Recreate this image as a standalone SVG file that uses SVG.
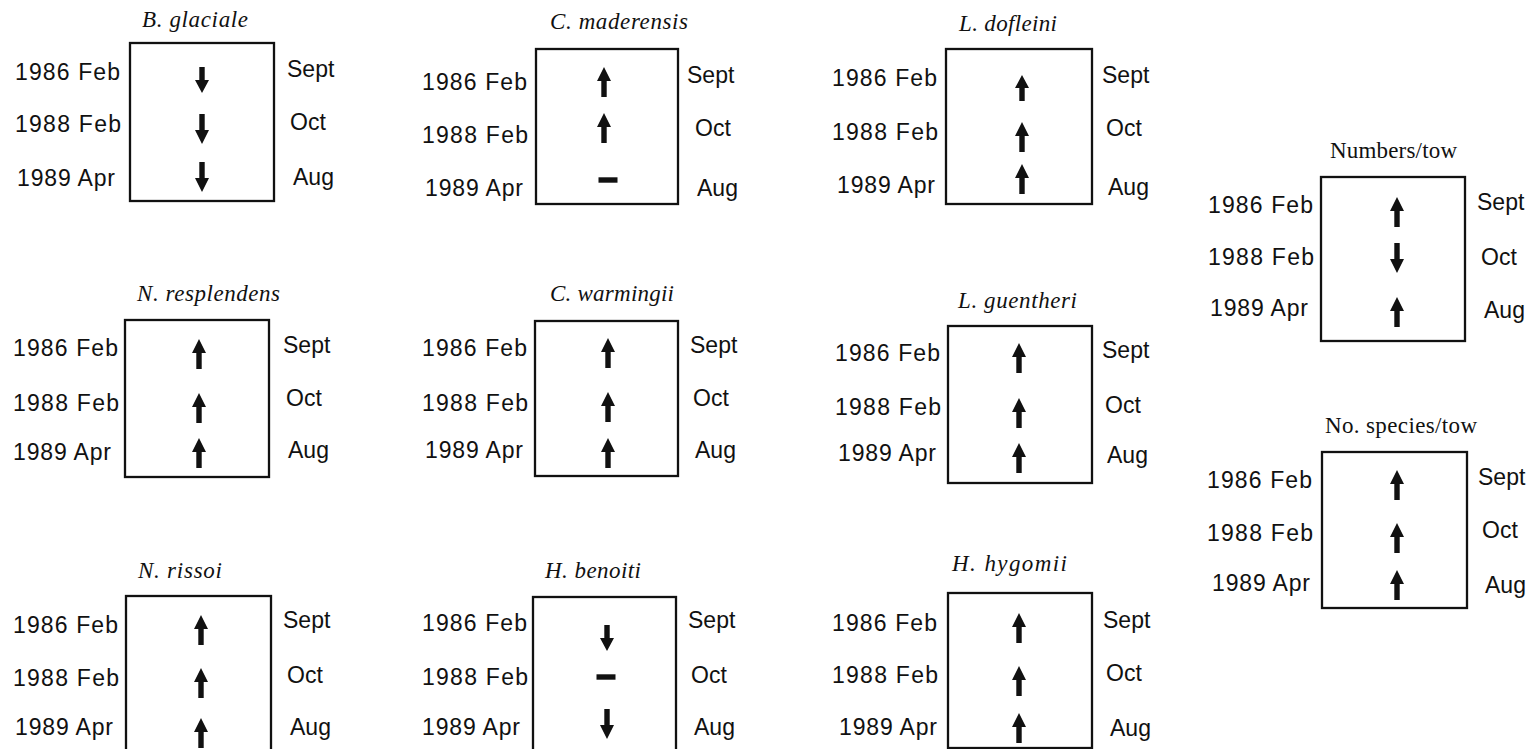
<svg xmlns="http://www.w3.org/2000/svg" xmlns:xlink="http://www.w3.org/1999/xlink" width="1536" height="749" viewBox="0 0 1536 749">
<style>
.bg{fill:#fff}
.box{fill:none;stroke:#111;stroke-width:2.3}
.lab{font-family:"Liberation Sans",Arial,sans-serif;font-size:23px;fill:#111}
.ttl{font-family:"Liberation Serif","Times New Roman",serif;font-size:23px;font-style:italic;fill:#111}
.ttlu{font-family:"Liberation Serif","Times New Roman",serif;font-size:23px;fill:#111}
.mk{fill:#111}
</style>
<defs>
<path id="up" d="M0,0 L7,14 L2.7,14 L2.7,30 L-2.7,30 L-2.7,14 L-7,14 Z"/>
<path id="ups" d="M0,0 L7,13 L2.7,13 L2.7,26 L-2.7,26 L-2.7,13 L-7,13 Z"/>
<path id="dn" d="M0,30 L7,16 L2.7,16 L2.7,0 L-2.7,0 L-2.7,16 L-7,16 Z"/>
<path id="dns" d="M0,26 L7,13 L2.7,13 L2.7,0 L-2.7,0 L-2.7,13 L-7,13 Z"/>
<rect id="dash" x="-9.5" y="-2.7" width="19" height="5.4"/>
</defs>
<rect class="bg" x="0" y="0" width="1536" height="749"/>

<g id="b-glaciale">
<text class="ttl" x="142" y="27" textLength="106" lengthAdjust="spacing">B. glaciale</text>
<rect class="box" x="130" y="43" width="144" height="158"/>
<text class="lab" x="15" y="80" textLength="105" lengthAdjust="spacing">1986 Feb</text>
<text class="lab" x="15" y="132" textLength="106" lengthAdjust="spacing">1988 Feb</text>
<text class="lab" x="17" y="186" textLength="98" lengthAdjust="spacing">1989 Apr</text>
<text class="lab" x="287" y="77">Sept</text>
<text class="lab" x="290" y="130">Oct</text>
<text class="lab" x="293" y="185">Aug</text>
<use class="mk" xlink:href="#dns" x="202" y="67"/>
<use class="mk" xlink:href="#dn" x="202" y="114"/>
<use class="mk" xlink:href="#dn" x="202" y="162"/>
</g>

<g id="c-maderensis">
<text class="ttl" x="550" y="29" textLength="138" lengthAdjust="spacing">C. maderensis</text>
<rect class="box" x="536" y="49" width="142" height="155"/>
<text class="lab" x="422" y="90" textLength="105" lengthAdjust="spacing">1986 Feb</text>
<text class="lab" x="422" y="143" textLength="106" lengthAdjust="spacing">1988 Feb</text>
<text class="lab" x="425" y="196" textLength="98" lengthAdjust="spacing">1989 Apr</text>
<text class="lab" x="687" y="83">Sept</text>
<text class="lab" x="695" y="136">Oct</text>
<text class="lab" x="697" y="196">Aug</text>
<use class="mk" xlink:href="#up" x="604" y="67"/>
<use class="mk" xlink:href="#up" x="604" y="113"/>
<use class="mk" xlink:href="#dash" x="608" y="180"/>
</g>

<g id="l-dofleini">
<text class="ttl" x="959" y="31" textLength="98" lengthAdjust="spacing">L. dofleini</text>
<rect class="box" x="946" y="49" width="146" height="155"/>
<text class="lab" x="832" y="86" textLength="105" lengthAdjust="spacing">1986 Feb</text>
<text class="lab" x="832" y="140" textLength="106" lengthAdjust="spacing">1988 Feb</text>
<text class="lab" x="837" y="193" textLength="98" lengthAdjust="spacing">1989 Apr</text>
<text class="lab" x="1102" y="83">Sept</text>
<text class="lab" x="1106" y="136">Oct</text>
<text class="lab" x="1108" y="195">Aug</text>
<use class="mk" xlink:href="#ups" x="1022" y="75"/>
<use class="mk" xlink:href="#up" x="1022" y="122"/>
<use class="mk" xlink:href="#up" x="1022" y="164"/>
</g>

<g id="numbers-tow">
<text class="ttlu" x="1330" y="158" textLength="127" lengthAdjust="spacing">Numbers/tow</text>
<rect class="box" x="1321" y="177" width="144" height="164"/>
<text class="lab" x="1208" y="213" textLength="105" lengthAdjust="spacing">1986 Feb</text>
<text class="lab" x="1208" y="265" textLength="106" lengthAdjust="spacing">1988 Feb</text>
<text class="lab" x="1210" y="316" textLength="98" lengthAdjust="spacing">1989 Apr</text>
<text class="lab" x="1477" y="210">Sept</text>
<text class="lab" x="1481" y="265">Oct</text>
<text class="lab" x="1484" y="318">Aug</text>
<use class="mk" xlink:href="#up" x="1397" y="197"/>
<use class="mk" xlink:href="#dn" x="1397" y="243"/>
<use class="mk" xlink:href="#up" x="1397" y="297"/>
</g>

<g id="no-species-tow">
<text class="ttlu" x="1325" y="433" textLength="152" lengthAdjust="spacing">No. species/tow</text>
<rect class="box" x="1322" y="452" width="145" height="156"/>
<text class="lab" x="1207" y="488" textLength="105" lengthAdjust="spacing">1986 Feb</text>
<text class="lab" x="1207" y="541" textLength="106" lengthAdjust="spacing">1988 Feb</text>
<text class="lab" x="1212" y="591" textLength="98" lengthAdjust="spacing">1989 Apr</text>
<text class="lab" x="1478" y="485">Sept</text>
<text class="lab" x="1482" y="538">Oct</text>
<text class="lab" x="1485" y="593">Aug</text>
<use class="mk" xlink:href="#up" x="1397" y="470"/>
<use class="mk" xlink:href="#up" x="1397" y="523"/>
<use class="mk" xlink:href="#up" x="1397" y="570"/>
</g>

<g id="n-resplendens">
<text class="ttl" x="137" y="301" textLength="143" lengthAdjust="spacing">N. resplendens</text>
<rect class="box" x="125" y="320" width="144" height="157"/>
<text class="lab" x="13" y="356" textLength="105" lengthAdjust="spacing">1986 Feb</text>
<text class="lab" x="13" y="411" textLength="106" lengthAdjust="spacing">1988 Feb</text>
<text class="lab" x="13" y="460" textLength="98" lengthAdjust="spacing">1989 Apr</text>
<text class="lab" x="283" y="353">Sept</text>
<text class="lab" x="286" y="406">Oct</text>
<text class="lab" x="288" y="458">Aug</text>
<use class="mk" xlink:href="#up" x="199" y="339"/>
<use class="mk" xlink:href="#up" x="199" y="393"/>
<use class="mk" xlink:href="#up" x="199" y="438"/>
</g>

<g id="c-warmingii">
<text class="ttl" x="550" y="301" textLength="124" lengthAdjust="spacing">C. warmingii</text>
<rect class="box" x="535" y="321" width="143" height="155"/>
<text class="lab" x="422" y="356" textLength="105" lengthAdjust="spacing">1986 Feb</text>
<text class="lab" x="422" y="411" textLength="106" lengthAdjust="spacing">1988 Feb</text>
<text class="lab" x="425" y="458" textLength="98" lengthAdjust="spacing">1989 Apr</text>
<text class="lab" x="690" y="353">Sept</text>
<text class="lab" x="693" y="406">Oct</text>
<text class="lab" x="695" y="458">Aug</text>
<use class="mk" xlink:href="#up" x="608" y="338"/>
<use class="mk" xlink:href="#up" x="608" y="392"/>
<use class="mk" xlink:href="#up" x="608" y="438"/>
</g>

<g id="l-guentheri">
<text class="ttl" x="958" y="308" textLength="119" lengthAdjust="spacing">L. guentheri</text>
<rect class="box" x="948" y="326" width="144" height="157"/>
<text class="lab" x="835" y="361" textLength="105" lengthAdjust="spacing">1986 Feb</text>
<text class="lab" x="835" y="415" textLength="106" lengthAdjust="spacing">1988 Feb</text>
<text class="lab" x="838" y="461" textLength="98" lengthAdjust="spacing">1989 Apr</text>
<text class="lab" x="1102" y="358">Sept</text>
<text class="lab" x="1105" y="413">Oct</text>
<text class="lab" x="1107" y="463">Aug</text>
<use class="mk" xlink:href="#up" x="1019" y="343"/>
<use class="mk" xlink:href="#up" x="1019" y="398"/>
<use class="mk" xlink:href="#up" x="1019" y="443"/>
</g>

<g id="n-rissoi">
<text class="ttl" x="138" y="578" textLength="84" lengthAdjust="spacing">N. rissoi</text>
<rect class="box" x="126" y="596" width="145" height="160"/>
<text class="lab" x="13" y="633" textLength="105" lengthAdjust="spacing">1986 Feb</text>
<text class="lab" x="13" y="686" textLength="106" lengthAdjust="spacing">1988 Feb</text>
<text class="lab" x="15" y="735" textLength="98" lengthAdjust="spacing">1989 Apr</text>
<text class="lab" x="283" y="628">Sept</text>
<text class="lab" x="287" y="683">Oct</text>
<text class="lab" x="290" y="735">Aug</text>
<use class="mk" xlink:href="#up" x="201" y="615"/>
<use class="mk" xlink:href="#up" x="201" y="668"/>
<use class="mk" xlink:href="#up" x="201" y="718"/>
</g>

<g id="h-benoiti">
<text class="ttl" x="545" y="578" textLength="96" lengthAdjust="spacing">H. benoiti</text>
<rect class="box" x="533" y="597" width="143" height="160"/>
<text class="lab" x="422" y="631" textLength="105" lengthAdjust="spacing">1986 Feb</text>
<text class="lab" x="422" y="685" textLength="106" lengthAdjust="spacing">1988 Feb</text>
<text class="lab" x="422" y="735" textLength="98" lengthAdjust="spacing">1989 Apr</text>
<text class="lab" x="688" y="628">Sept</text>
<text class="lab" x="691" y="683">Oct</text>
<text class="lab" x="694" y="735">Aug</text>
<use class="mk" xlink:href="#dns" x="607" y="625"/>
<use class="mk" xlink:href="#dash" x="606" y="677"/>
<use class="mk" xlink:href="#dn" x="607" y="709"/>
</g>

<g id="h-hygomii">
<text class="ttl" x="952" y="571" textLength="115" lengthAdjust="spacing">H. hygomii</text>
<rect class="box" x="948" y="593" width="144" height="155"/>
<text class="lab" x="832" y="631" textLength="105" lengthAdjust="spacing">1986 Feb</text>
<text class="lab" x="832" y="683" textLength="106" lengthAdjust="spacing">1988 Feb</text>
<text class="lab" x="839" y="735" textLength="98" lengthAdjust="spacing">1989 Apr</text>
<text class="lab" x="1103" y="628">Sept</text>
<text class="lab" x="1106" y="681">Oct</text>
<text class="lab" x="1110" y="736">Aug</text>
<use class="mk" xlink:href="#up" x="1019" y="613"/>
<use class="mk" xlink:href="#up" x="1019" y="666"/>
<use class="mk" xlink:href="#up" x="1019" y="713"/>
</g>
</svg>
